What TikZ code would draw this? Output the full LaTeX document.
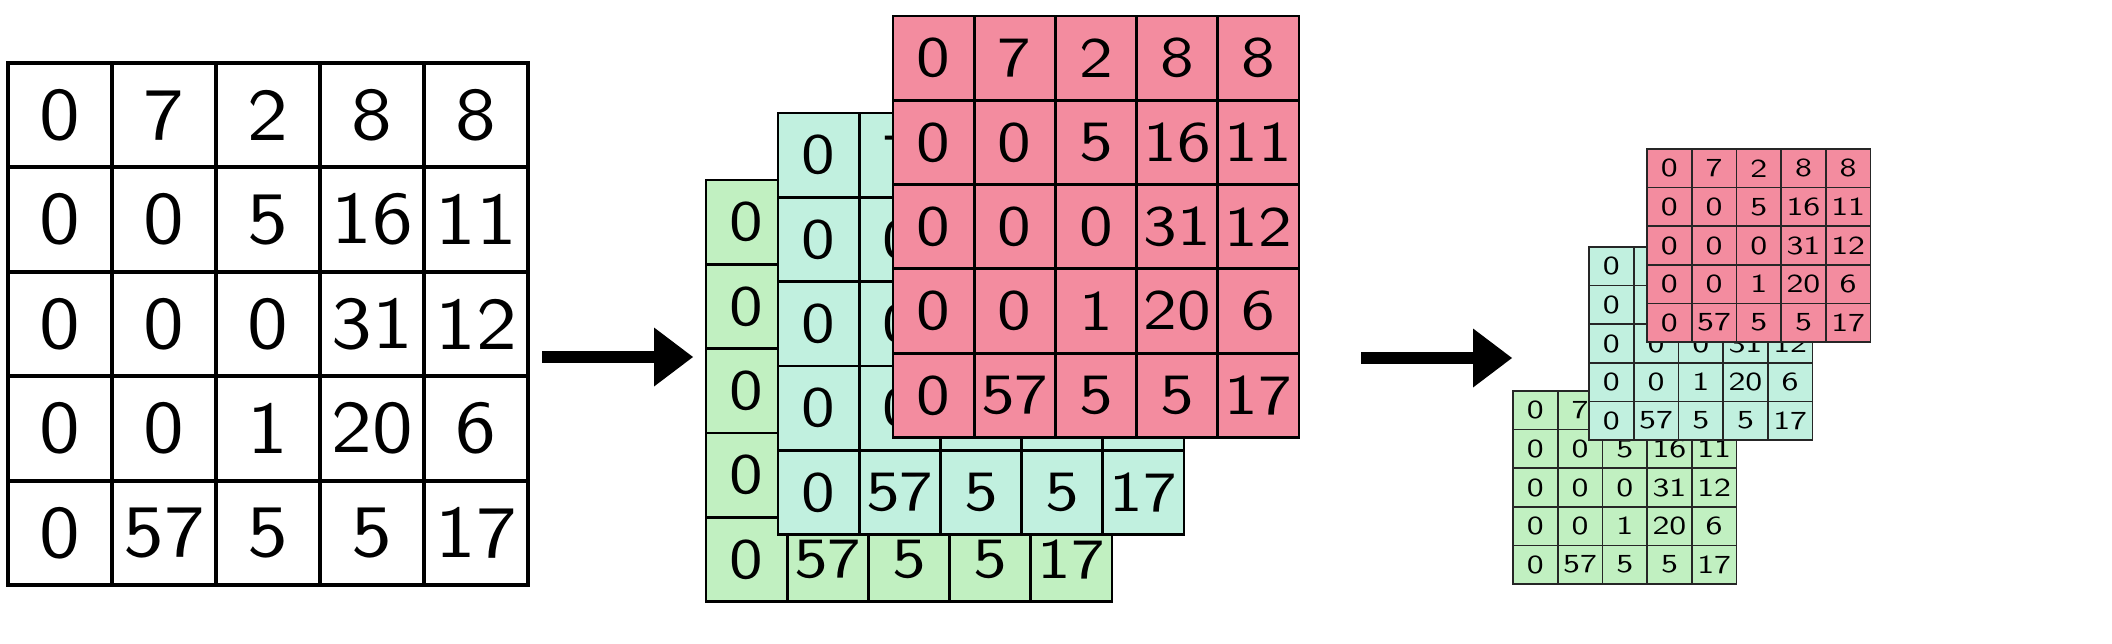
\documentclass[tikz,border=0pt]{standalone}
\usepackage{fontspec}
\usetikzlibrary{arrows.meta}
\newfontfamily\fmbigfont{lmsans10-regular.otf}[FakeStretch=1.1]
\newfontfamily\fmmidfont{lmsans10-regular.otf}[FakeStretch=1.18]
\newfontfamily\fmsmallfont{lmsans10-regular.otf}[FakeStretch=1.3]
\definecolor{fmRed}{HTML}{F38C9F}
\definecolor{fmCyan}{HTML}{C1F0DF}
\definecolor{fmGreen}{HTML}{C1F0C1}
\tikzset{
  fm big cell/.style={draw=black, line width=4pt, minimum width=104pt, minimum height=104.4pt, inner sep=0pt, outer sep=0pt, font=\fmbigfont\fontsize{74}{80}\selectfont},
  fm mid cell/.style={draw=black, line width=2.8pt, minimum width=81.2pt, minimum height=84.3pt, inner sep=0pt, outer sep=0pt, font=\fmmidfont\fontsize{57}{60}\selectfont},
  fm small cell/.style={draw=black!85, line width=1.7pt, minimum width=44.7pt, minimum height=38.6pt, inner sep=0pt, outer sep=0pt, font=\fmsmallfont\fontsize{26}{28}\selectfont},
  fm arrow/.style={draw=black, line width=12pt, -{Triangle[length=39pt, width=59pt, line width=0pt]}},
}
\def\fmvalues{{0,7,2,8,8},{0,0,5,16,11},{0,0,0,31,12},{0,0,1,20,6},{0,57,5,5,17}}

\begin{document}
\begin{tikzpicture}[x=1pt, y=-1pt]
  \fill[white] (0,0) rectangle (2112,644);
  % Input map: one plain grid
  \foreach \row [count=\r] in \fmvalues
    \foreach \v [count=\c] in \row
      \node[fm big cell] (in-\r-\c) at ({8+(\c-0.5)*104}, {63+(\r-0.5)*104.4}) {\v};
  % Middle stack: three maps, back to front
  \foreach \layer/\gx/\gy/\gcol in {mg/706/180/fmGreen, mc/778/113/fmCyan, mr/893/16/fmRed} {
    \fill[\gcol] (\gx,\gy) rectangle ++(406,421.5);
    \foreach \row [count=\r] in \fmvalues
      \foreach \v [count=\c] in \row
        \node[fm mid cell] (\layer-\r-\c) at ({\gx+(\c-0.5)*81.2}, {\gy+(\r-0.5)*84.3}) {\v};
  }
  % Output stack: same three maps, shrunk
  \foreach \layer/\gx/\gy/\gcol in {sg/1513/391/fmGreen, sc/1589/247/fmCyan, sr/1647/149/fmRed} {
    \fill[\gcol] (\gx,\gy) rectangle ++(223.5,193);
    \foreach \row [count=\r] in \fmvalues
      \foreach \v [count=\c] in \row
        \node[fm small cell] (\layer-\r-\c) at ({\gx+(\c-0.5)*44.7}, {\gy+(\r-0.5)*38.6}) {\v};
  }
  % Arrows between the stages
  \coordinate (arrow in tail) at (542,357);
  \coordinate (arrow in head) at (693,357);
  \coordinate (arrow out tail) at (1361,358);
  \coordinate (arrow out head) at (1512,358);
  \draw[fm arrow] (arrow in tail) -- (arrow in head);
  \draw[fm arrow] (arrow out tail) -- (arrow out head);
\end{tikzpicture}
\end{document}
